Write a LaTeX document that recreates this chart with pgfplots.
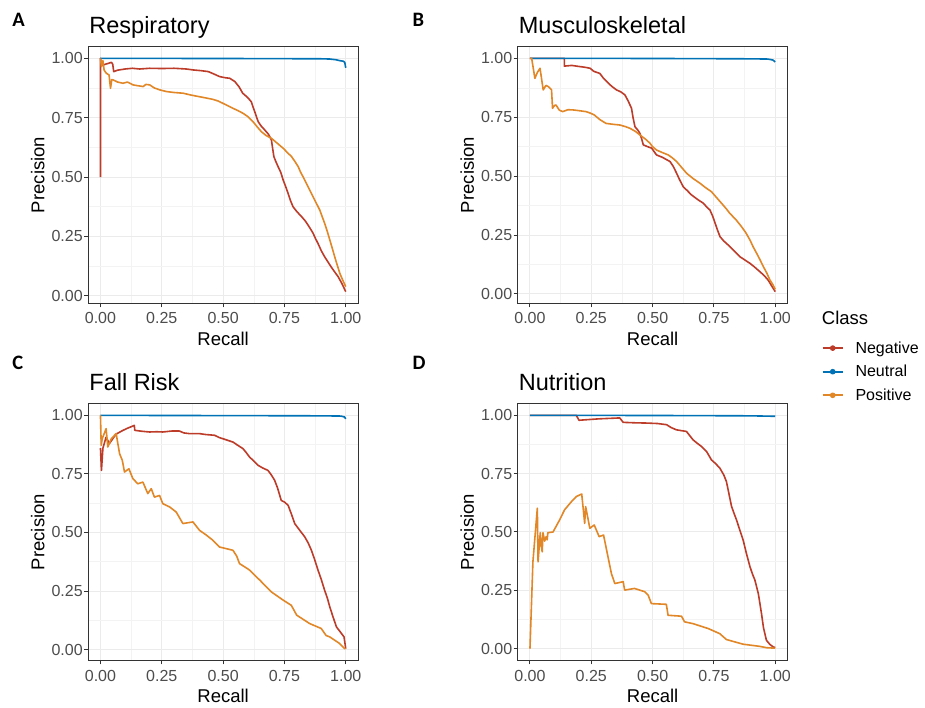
\documentclass[border=0pt]{standalone}
\usepackage{fontspec}
\setmainfont{Liberation Sans}
\newfontfamily\carlito{Carlito}
\usepackage{pgfplots}
\pgfplotsset{compat=1.18}
\definecolor{negc}{HTML}{BC3C29}
\definecolor{neuc}{HTML}{0072B5}
\definecolor{posc}{HTML}{E18727}
\definecolor{frame}{HTML}{333333}
\definecolor{gridmaj}{HTML}{EBEBEB}
\definecolor{gridmin}{HTML}{F3F3F3}
\definecolor{ticktext}{HTML}{4D4D4D}
\newcommand\ticksize{\fontsize{16}{16}\selectfont}
\newcommand\labsize{\fontsize{18.5}{18.5}\selectfont}
\newcommand\titsize{\fontsize{23.5}{23.5}\selectfont}
\pgfplotsset{
  panel/.style={
    scale only axis, width=269.8pt, height=256.6pt,
    xmin=-0.05, xmax=1.05,
    xtick={0,0.25,0.5,0.75,1}, xticklabels={0.00,0.25,0.50,0.75,1.00},
    ytick={0,0.25,0.5,0.75,1}, yticklabels={0.00,0.25,0.50,0.75,1.00},
    minor xtick={0.125,0.375,0.625,0.875},
    minor ytick={0.125,0.375,0.625,0.875},
    grid=both,
    major grid style={color=gridmaj, line width=1pt},
    minor grid style={color=gridmin, line width=0.5pt},
    axis line style={color=frame, line width=1pt},
    tick style={color=frame, line width=1pt},
    tick align=outside, major tick length=4pt, minor tick length=0pt,
    xtick pos=left, ytick pos=left,
    ticklabel style={font=\ticksize, text=ticktext},
    xticklabel style={yshift=-2pt},
    yticklabel style={xshift=2pt},
    label style={font=\labsize},
    xlabel={Recall}, ylabel={Precision},
    xlabel style={yshift=-1pt},
    title style={at={(0,1)}, anchor=base west, inner sep=0pt, xshift=1pt, yshift=7pt, font=\titsize},
    every axis plot/.append style={line width=1.6pt, line join=round, mark=none},
  }
}
\begin{document}
\begin{tikzpicture}[x=1pt,y=1pt]
\path[use as bounding box] (0,0) rectangle (925,708);
\fill[white] (0,0) rectangle (925,708);
% Panel A
\begin{axis}[panel, at={(88.2pt,404.7pt)}, anchor=south west, ymin=-0.032, ymax=1.049, title={Respiratory}]
\addplot[negc] coordinates {(0,0.5) (0.0,1.0) (0.005,0.97) (0.02,0.975) (0.045,0.983) (0.05,0.975) (0.054,0.944) (0.07,0.95) (0.1,0.955) (0.13,0.958) (0.16,0.955) (0.2,0.958) (0.25,0.957) (0.3,0.958) (0.35,0.955) (0.378,0.951) (0.41,0.948) (0.44,0.944) (0.46,0.935) (0.486,0.923) (0.51,0.918) (0.527,0.916) (0.548,0.902) (0.565,0.88) (0.58,0.853) (0.6,0.835) (0.615,0.817) (0.622,0.795) (0.629,0.775) (0.643,0.733) (0.655,0.715) (0.67,0.698) (0.685,0.68) (0.697,0.656) (0.702,0.62) (0.707,0.586) (0.715,0.565) (0.724,0.544) (0.735,0.52) (0.745,0.487) (0.755,0.46) (0.765,0.431) (0.775,0.4) (0.785,0.375) (0.8,0.355) (0.82,0.333) (0.835,0.315) (0.846,0.298) (0.857,0.28) (0.867,0.263) (0.877,0.24) (0.887,0.22) (0.9,0.19) (0.914,0.164) (0.927,0.143) (0.94,0.122) (0.955,0.1) (0.969,0.08) (0.985,0.05) (1.0,0.017)};
\addplot[neuc] coordinates {(0,1.0) (0.3,0.9995) (0.6,0.999) (0.9,0.998) (0.935,0.997) (0.96,0.994) (0.976,0.99) (0.99,0.988) (0.996,0.983) (1.0,0.96)};
\addplot[posc] coordinates {(0,1.0) (0.004,0.965) (0.01,0.99) (0.015,0.95) (0.024,0.937) (0.035,0.93) (0.041,0.874) (0.046,0.91) (0.052,0.909) (0.07,0.9) (0.092,0.895) (0.11,0.9) (0.133,0.888) (0.15,0.885) (0.174,0.881) (0.185,0.89) (0.201,0.888) (0.22,0.875) (0.242,0.867) (0.269,0.86) (0.3,0.856) (0.337,0.853) (0.37,0.845) (0.405,0.838) (0.43,0.833) (0.459,0.827) (0.48,0.82) (0.5,0.81) (0.52,0.8) (0.541,0.789) (0.56,0.78) (0.582,0.768) (0.6,0.755) (0.622,0.733) (0.64,0.71) (0.656,0.691) (0.675,0.675) (0.697,0.663) (0.72,0.643) (0.745,0.621) (0.765,0.6) (0.779,0.586) (0.793,0.565) (0.806,0.544) (0.816,0.52) (0.826,0.501) (0.843,0.466) (0.86,0.431) (0.877,0.396) (0.894,0.361) (0.904,0.333) (0.914,0.305) (0.925,0.27) (0.935,0.235) (0.945,0.2) (0.955,0.164) (0.965,0.13) (0.976,0.094) (0.988,0.065) (1.0,0.038)};
\end{axis}
% Panel B
\begin{axis}[panel, at={(517.7pt,404.7pt)}, anchor=south west, ymin=-0.0395, ymax=1.0495, title={Musculoskeletal},
  legend style={at={(axis description cs:1.1268,-0.2666)}, anchor=west, draw=none, fill=none, inner sep=0pt, font=\ticksize, row sep=6.5pt, column sep=10pt},
  legend cell align=left,
  legend image code/.code={\draw[mark repeat=2,mark phase=2,#1] plot coordinates {(0pt,0pt) (10pt,0pt) (20pt,0pt)};}]
\addlegendimage{negc, line width=1.6pt, mark=*, mark size=2pt}
\addlegendentry{Negative}
\addlegendimage{neuc, line width=1.6pt, mark=*, mark size=2pt}
\addlegendentry{Neutral}
\addlegendimage{posc, line width=1.6pt, mark=*, mark size=2pt}
\addlegendentry{Positive}
\addplot[negc, forget plot] coordinates {(0,1) (0.14,1) (0.14,0.967) (0.17,0.97) (0.204,0.965) (0.225,0.962) (0.245,0.958) (0.26,0.945) (0.285,0.936) (0.3,0.915) (0.32,0.894) (0.335,0.88) (0.353,0.866) (0.37,0.858) (0.387,0.845) (0.4,0.82) (0.414,0.788) (0.42,0.75) (0.428,0.71) (0.44,0.695) (0.448,0.682) (0.455,0.66) (0.462,0.633) (0.48,0.625) (0.496,0.619) (0.516,0.59) (0.54,0.58) (0.571,0.562) (0.585,0.54) (0.598,0.512) (0.61,0.485) (0.625,0.455) (0.64,0.44) (0.659,0.42) (0.685,0.4) (0.707,0.385) (0.72,0.37) (0.734,0.356) (0.745,0.33) (0.755,0.3) (0.765,0.27) (0.775,0.243) (0.79,0.225) (0.808,0.208) (0.83,0.185) (0.856,0.158) (0.875,0.145) (0.897,0.13) (0.915,0.115) (0.937,0.095) (0.955,0.078) (0.971,0.059) (0.985,0.035) (1.0,0.01)};
\addplot[neuc, forget plot] coordinates {(0,1) (0.5,0.9995) (0.9,0.998) (0.97,0.997) (0.99,0.993) (1.0,0.985)};
\addplot[posc, forget plot] coordinates {(0,1) (0.007,1) (0.02,0.915) (0.03,0.94) (0.041,0.958) (0.054,0.866) (0.065,0.885) (0.075,0.88) (0.088,0.866) (0.092,0.788) (0.1,0.8) (0.106,0.802) (0.12,0.78) (0.133,0.774) (0.155,0.782) (0.177,0.781) (0.2,0.778) (0.228,0.774) (0.245,0.768) (0.262,0.76) (0.285,0.74) (0.31,0.724) (0.34,0.72) (0.367,0.717) (0.39,0.71) (0.408,0.703) (0.43,0.69) (0.448,0.675) (0.47,0.658) (0.489,0.64) (0.5,0.625) (0.516,0.611) (0.54,0.6) (0.564,0.59) (0.58,0.578) (0.598,0.562) (0.62,0.535) (0.639,0.512) (0.665,0.49) (0.693,0.47) (0.715,0.452) (0.74,0.434) (0.76,0.41) (0.781,0.385) (0.8,0.362) (0.815,0.342) (0.84,0.315) (0.863,0.285) (0.88,0.26) (0.897,0.229) (0.91,0.2) (0.924,0.173) (0.938,0.145) (0.951,0.117) (0.965,0.09) (0.978,0.06) (0.99,0.04) (1.0,0.02)};
\end{axis}
% Panel C
\begin{axis}[panel, at={(88.2pt,47.7pt)}, anchor=south west, ymin=-0.0458, ymax=1.0498, title={Fall Risk}]
\addplot[negc] coordinates {(0,0.86) (0.004,0.765) (0.01,0.86) (0.023,0.907) (0.036,0.879) (0.05,0.9) (0.064,0.92) (0.09,0.935) (0.11,0.945) (0.138,0.957) (0.14,0.936) (0.17,0.932) (0.2,0.929) (0.23,0.93) (0.254,0.929) (0.29,0.933) (0.322,0.933) (0.34,0.925) (0.363,0.922) (0.404,0.922) (0.43,0.918) (0.465,0.915) (0.485,0.905) (0.5,0.9) (0.52,0.893) (0.54,0.886) (0.56,0.872) (0.581,0.858) (0.595,0.84) (0.608,0.822) (0.625,0.805) (0.642,0.787) (0.662,0.775) (0.683,0.765) (0.697,0.745) (0.71,0.723) (0.722,0.69) (0.737,0.637) (0.75,0.63) (0.765,0.616) (0.778,0.58) (0.792,0.538) (0.812,0.51) (0.833,0.481) (0.847,0.455) (0.86,0.424) (0.873,0.385) (0.887,0.339) (0.9,0.3) (0.914,0.253) (0.925,0.22) (0.935,0.182) (0.948,0.14) (0.962,0.097) (0.978,0.075) (0.993,0.054) (1.0,0.004)};
\addplot[neuc] coordinates {(0,1) (0.5,0.999) (0.9,0.998) (0.98,0.997) (0.995,0.993) (1.0,0.985)};
\addplot[posc] coordinates {(0,1.0) (0.003,0.872) (0.007,0.9) (0.023,0.943) (0.03,0.865) (0.044,0.9) (0.064,0.922) (0.078,0.836) (0.089,0.808) (0.098,0.758) (0.116,0.772) (0.132,0.73) (0.152,0.708) (0.173,0.715) (0.193,0.666) (0.207,0.687) (0.22,0.651) (0.241,0.658) (0.254,0.623) (0.282,0.609) (0.309,0.587) (0.336,0.538) (0.377,0.545) (0.404,0.509) (0.43,0.49) (0.458,0.467) (0.485,0.438) (0.54,0.424) (0.555,0.4) (0.567,0.367) (0.6,0.345) (0.608,0.339) (0.65,0.296) (0.697,0.246) (0.745,0.211) (0.778,0.189) (0.8,0.147) (0.853,0.111) (0.9,0.09) (0.92,0.06) (0.935,0.054) (0.975,0.026) (0.995,0.004) (1.0,0.004)};
\end{axis}
% Panel D
\begin{axis}[panel, at={(517.7pt,47.7pt)}, anchor=south west, ymin=-0.05, ymax=1.05, title={Nutrition}]
\addplot[negc] coordinates {(0,1) (0.189,1) (0.2,0.979) (0.28,0.985) (0.366,0.989) (0.38,0.97) (0.43,0.968) (0.475,0.967) (0.52,0.965) (0.557,0.96) (0.575,0.948) (0.597,0.938) (0.638,0.931) (0.65,0.915) (0.665,0.895) (0.68,0.882) (0.699,0.867) (0.72,0.845) (0.74,0.809) (0.755,0.795) (0.774,0.774) (0.79,0.745) (0.801,0.716) (0.812,0.66) (0.822,0.609) (0.832,0.58) (0.842,0.552) (0.855,0.51) (0.869,0.466) (0.882,0.41) (0.897,0.351) (0.907,0.32) (0.917,0.294) (0.931,0.236) (0.938,0.19) (0.944,0.15) (0.952,0.09) (0.964,0.036) (0.978,0.018) (0.992,0.007) (1.0,0.005)};
\addplot[neuc] coordinates {(0,1) (0.5,0.9995) (0.9,0.998) (1,0.996)};
\addplot[posc] coordinates {(0,0) (0.012,0.372) (0.03,0.602) (0.033,0.372) (0.042,0.497) (0.046,0.44) (0.05,0.415) (0.053,0.497) (0.06,0.461) (0.066,0.48) (0.07,0.466) (0.073,0.497) (0.094,0.5) (0.121,0.552) (0.141,0.595) (0.169,0.63) (0.189,0.652) (0.211,0.663) (0.223,0.537) (0.227,0.609) (0.244,0.516) (0.262,0.53) (0.282,0.48) (0.3,0.487) (0.318,0.394) (0.332,0.322) (0.346,0.279) (0.38,0.287) (0.386,0.251) (0.426,0.258) (0.468,0.244) (0.482,0.229) (0.495,0.193) (0.556,0.19) (0.563,0.143) (0.618,0.139) (0.63,0.115) (0.665,0.107) (0.727,0.086) (0.774,0.064) (0.801,0.039) (0.869,0.019) (0.935,0.01) (0.965,0.004) (1.0,0.002)};
\end{axis}
% panel letters and legend title
\node[anchor=base west, inner sep=0pt, font={\carlito\bfseries\fontsize{20.5}{20.5}\selectfont}] at (12.3,681.3) {A};
\node[anchor=base west, inner sep=0pt, font={\carlito\bfseries\fontsize{20.5}{20.5}\selectfont}] at (412.3,681.3) {B};
\node[anchor=base west, inner sep=0pt, font={\carlito\bfseries\fontsize{20.5}{20.5}\selectfont}] at (12.3,338) {C};
\node[anchor=base west, inner sep=0pt, font={\carlito\bfseries\fontsize{20.5}{20.5}\selectfont}] at (412.3,338) {D};
\node[anchor=base west, inner sep=0pt, font=\labsize] at (821.7,383) {Class};
\end{tikzpicture}
\end{document}
